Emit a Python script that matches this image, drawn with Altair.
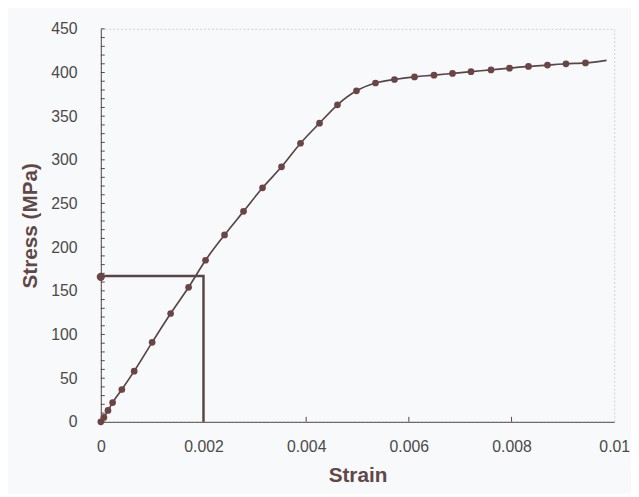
import altair as alt
import pandas as pd

# Marker data
strain = [0, 0.00006, 0.00014, 0.00023, 0.00041, 0.00065, 0.0010, 0.00136, 0.00171,
          0.00204, 0.00241, 0.00278, 0.00315, 0.00352, 0.00389, 0.00426, 0.00461,
          0.00498, 0.00535, 0.00572, 0.00611, 0.00649, 0.00685, 0.00721, 0.0076,
          0.00796, 0.00833, 0.0087, 0.00906, 0.00944]
stress = [0, 5, 13, 22, 37, 58, 91, 124, 154, 185, 214, 241, 268, 292, 319, 342, 363,
          379, 388, 392, 395, 397, 399, 401, 403, 405, 407, 408.5, 410, 411]

# Curve continues a little past the last marker
line_end_strain = [0.00985]
line_end_stress = [414]

# Yield construction lines (0.002 strain / ~167 MPa)
guide_strain = [0, 0.002, 0.002]
guide_stress = [167, 167, 0]
guide_marker_strain = [0]
guide_marker_stress = [166]

x_tick_values = [0, 0.002, 0.004, 0.006, 0.008, 0.01]
y_tick_values = [0, 50, 100, 150, 200, 250, 300, 350, 400, 450]
y_minor_ticks = list(range(0, 451, 10))
x_inner_ticks = [0.002, 0.004, 0.006, 0.008]

W, H = 520, 398
ink = "#574645"
pt = "#6b4545"
lab = "#4a4a4a"
ttl = "#5f4848"

pts = pd.DataFrame({"strain": strain, "stress": stress})
line_df = pd.DataFrame({"strain": strain + line_end_strain, "stress": stress + line_end_stress})
guide_df = pd.DataFrame({"strain": guide_strain, "stress": guide_stress, "o": [0, 1, 2]})
gm_df = pd.DataFrame({"strain": guide_marker_strain, "stress": guide_marker_stress})
xt_df = pd.DataFrame({"strain": x_inner_ticks})
yt_df = pd.DataFrame({"stress": y_minor_ticks})

label_expr = "datum.value == 0 ? '0' : datum.value == 0.01 ? '0.01' : format(datum.value, '.3f')"

xs = alt.Scale(domain=[0, 0.01], nice=False)
ys = alt.Scale(domain=[0, 450], nice=False)

x_axis = alt.Axis(title="Strain", values=x_tick_values, labelExpr=label_expr,
                  grid=False, ticks=False, labelPadding=17, titlePadding=10,
                  domainColor=ink, labelColor=lab, labelFontSize=16,
                  labelFont="Liberation Sans", titleFont="Liberation Sans",
                  titleFontSize=21, titleFontWeight="bold", titleColor=ttl,
                  labelFlush=False)
y_axis = alt.Axis(title="Stress (MPa)", values=y_tick_values, grid=False, ticks=False,
                  labelPadding=24, titlePadding=10, domainColor=ink, labelColor=lab,
                  labelFontSize=16, labelFont="Liberation Sans", titleFont="Liberation Sans",
                  titleFontSize=21, titleFontWeight="bold", titleColor=ttl)

curve = alt.Chart(line_df).mark_line(color=ink, strokeWidth=1.7, interpolate="monotone").encode(
    x=alt.X("strain:Q", scale=xs, axis=x_axis),
    y=alt.Y("stress:Q", scale=ys, axis=y_axis),
)
markers = alt.Chart(pts).mark_circle(color=pt, size=46, opacity=1).encode(
    x=alt.X("strain:Q", scale=xs), y=alt.Y("stress:Q", scale=ys))
guide = alt.Chart(guide_df).mark_line(color=ink, strokeWidth=2.5).encode(
    x=alt.X("strain:Q", scale=xs), y=alt.Y("stress:Q", scale=ys), order="o:O")
gmark = alt.Chart(gm_df).mark_circle(color=pt, size=70, opacity=1).encode(
    x=alt.X("strain:Q", scale=xs), y=alt.Y("stress:Q", scale=ys))
xticks = alt.Chart(xt_df).mark_rule(color=ink, strokeWidth=1).encode(
    x=alt.X("strain:Q", scale=xs), y=alt.value(H), y2=alt.value(H - 5))
yticks = alt.Chart(yt_df).mark_rule(color=ink, strokeWidth=1).encode(
    y=alt.Y("stress:Q", scale=ys), x=alt.value(0), x2=alt.value(4))

chart = alt.layer(curve, guide, markers, gmark, xticks, yticks).properties(
    width=W, height=H,
    autosize=alt.AutoSizeParams(type="none"),
    padding={"left": 94, "top": 18, "right": 17, "bottom": 70},
    background="#f8f9fa",
).configure_view(stroke="#cfd2d6", strokeDash=[2, 2], strokeWidth=1)

chart.save("out.html", embed_options={"renderer": "svg", "actions": False})
